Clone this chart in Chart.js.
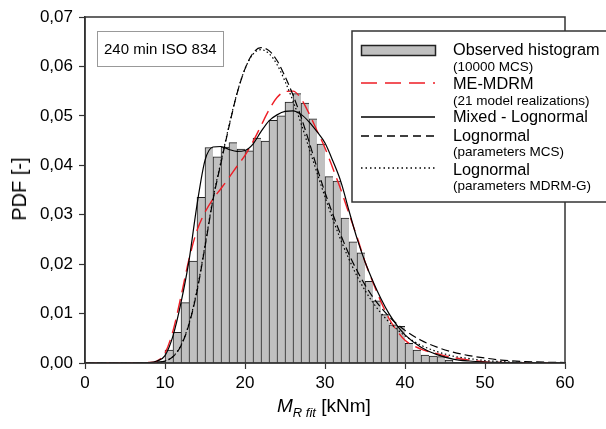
<!DOCTYPE html>
<html>
<head>
<meta charset="utf-8">
<script src="https://cdn.jsdelivr.net/npm/chart.js@4/dist/chart.umd.min.js"></script>
<style>
  html, body { margin: 0; padding: 0; background: #fff; }
  #wrap { position: relative; width: 606px; height: 429px; overflow: hidden; font-family: "Liberation Sans", Arial, sans-serif; color: #000; }
  #c { position: absolute; left: 0; top: 0; }
  .t { position: absolute; white-space: nowrap; line-height: 1; }
</style>
</head>
<body>
<div id="wrap">
  <canvas id="c" width="606" height="429"></canvas>
</div>
<script>
// ---------------- DATA ----------------
const binStarts = [9,10,11,12,13,14,15,16,17,18,19,20,21,22,23,24,25,26,27,28,29,30,31,32,33,34,35,36,37,38,39,40,41,42,43,44,45];
const histValues = [0.0004,0.0026,0.0062,0.0122,0.0206,0.0335,0.0436,0.0417,0.0437,0.0446,0.0433,0.0429,0.0455,0.0449,0.0491,0.0500,0.0528,0.0545,0.0526,0.0494,0.0443,0.0377,0.0368,0.0293,0.0245,0.0223,0.0165,0.0126,0.0098,0.0077,0.0074,0.0040,0.0026,0.0016,0.0014,0.0013,0.0006];

const curveX = [0,4,8,9,10,11,12,13,14,15,16,17,18,19,20,21,22,23,24,25,26,27,28,29,30,31,32,33,34,35,36,37,38,39,40,42,44,46,48,50,52,55,58,60];
const meMdrm = [0,0,0.0001,0.0004,0.002,0.0065,0.0135,0.021,0.0268,0.0305,0.0332,0.0353,0.0375,0.0398,0.042,0.0448,0.048,0.0512,0.0537,0.0549,0.055,0.0535,0.0505,0.047,0.0435,0.0393,0.035,0.0302,0.0255,0.0205,0.0163,0.0124,0.009,0.0065,0.0046,0.0028,0.0019,0.0011,0.0006,0.0002,0.0001,0,0,0];
const mixedLogn = [0,0,0.0001,0.0004,0.0015,0.0055,0.0122,0.0207,0.032,0.041,0.0437,0.0438,0.0432,0.0428,0.043,0.0443,0.0468,0.049,0.0502,0.0509,0.051,0.0503,0.0488,0.0468,0.0445,0.0408,0.0366,0.0308,0.0252,0.0205,0.0165,0.013,0.0100,0.0076,0.0057,0.0032,0.0017,0.0008,0.0004,0.0002,0.0001,0,0,0];
const lognMcs = [0,0,0.00002,0.0001,0.0004,0.0013,0.0035,0.0078,0.0145,0.0235,0.033,0.0405,0.0478,0.0545,0.0595,0.0627,0.0638,0.0632,0.0612,0.058,0.0542,0.0498,0.0448,0.0395,0.0345,0.030,0.0258,0.022,0.0187,0.0158,0.0133,0.0112,0.0094,0.0079,0.0066,0.0046,0.0032,0.0022,0.0015,0.001,0.0006,0.0003,0.00015,0.0001];
const lognMdrmG = [0,0,0.00002,0.0001,0.0004,0.0013,0.0036,0.008,0.0148,0.0238,0.0333,0.0408,0.048,0.0546,0.0595,0.0625,0.0634,0.0626,0.0604,0.057,0.053,0.0485,0.0435,0.0385,0.0336,0.029,0.0248,0.021,0.0176,0.0147,0.0122,0.0101,0.0083,0.0068,0.0055,0.0036,0.0023,0.0014,0.0009,0.0005,0.0003,0.0001,0.00005,0];

const xTicks = [0,10,20,30,40,50,60];
const yTicks = [0,0.01,0.02,0.03,0.04,0.05,0.06,0.07];

const legendLabels = [
  ["Observed histogram", "(10000 MCS)"],
  ["ME-MDRM", "(21 model realizations)"],
  ["Mixed - Lognormal", null],
  ["Lognormal", "(parameters MCS)"],
  ["Lognormal", "(parameters MDRM-G)"]
];
const boxLabel = "240 min ISO 834";
const yTitle = "PDF [-]";

// ---------------- CHART ----------------
const FONT = '"Liberation Sans", Arial, sans-serif';
Chart.defaults.font.family = FONT;
Chart.defaults.color = '#000';

const pts = (ys) => curveX.map((x, i) => ({x: x, y: ys[i]}));
const lineBase = { type: 'line', pointRadius: 0, borderWidth: 1.2, fill: false, cubicInterpolationMode: 'monotone', order: 1 };

const frameLegend = {
  id: 'frameLegend',
  afterDraw(chart) {
    const ctx = chart.ctx;
    const a = chart.chartArea;
    ctx.save();
    ctx.strokeStyle = '#333';
    ctx.lineWidth = 1.5;
    ctx.setLineDash([]);
    ctx.strokeRect(a.left, a.top, a.right - a.left, a.bottom - a.top);
    // annotation box
    ctx.fillStyle = '#fff';
    ctx.fillRect(97.5, 31.5, 126, 35);
    ctx.strokeStyle = '#999';
    ctx.lineWidth = 1;
    ctx.strokeRect(97.5, 31.5, 126, 35);
    // legend box
    ctx.fillStyle = '#fff';
    ctx.fillRect(352, 31, 270, 171);
    ctx.strokeStyle = '#333';
    ctx.lineWidth = 1.5;
    ctx.strokeRect(352, 31, 270, 171);
    // symbols
    ctx.fillStyle = '#c0c0c0';
    ctx.fillRect(361.5, 45.5, 74, 10);
    ctx.strokeStyle = '#222';
    ctx.lineWidth = 1.5;
    ctx.strokeRect(361.5, 45.5, 74, 10);
    const seg = (y, color, dash, w) => {
      ctx.beginPath();
      ctx.strokeStyle = color; ctx.lineWidth = w; ctx.setLineDash(dash);
      ctx.moveTo(361, y); ctx.lineTo(435, y); ctx.stroke();
    };
    seg(83, '#ee1c24', [16, 8], 1.4);
    seg(117, '#000', [], 1.3);
    seg(136, '#000', [8, 5], 1.3);
    seg(168, '#000', [1.5, 3], 1.3);
    ctx.restore();
  }
};

new Chart(document.getElementById('c'), {
  data: {
    datasets: [
      { type: 'bar', label: legendLabels[0][0], data: binStarts.map((b, i) => ({x: b + 0.5, y: histValues[i]})),
        backgroundColor: '#c0c0c0', borderColor: '#1e1e1e',
        borderWidth: (ctx) => ({left: 1, top: 1, right: ctx.dataIndex === binStarts.length - 1 ? 1 : 0, bottom: 0}),
        barPercentage: 1, categoryPercentage: 1, order: 10 },
      Object.assign({}, lineBase, { label: legendLabels[4][0], data: pts(lognMdrmG), borderColor: '#000', borderDash: [1.5, 2.5] }),
      Object.assign({}, lineBase, { label: legendLabels[3][0], data: pts(lognMcs), borderColor: '#000', borderDash: [8, 4] }),
      Object.assign({}, lineBase, { label: legendLabels[2][0], data: pts(mixedLogn), borderColor: '#000', borderDash: [] }),
      Object.assign({}, lineBase, { label: legendLabels[1][0], data: pts(meMdrm), borderColor: '#ee1c24', borderDash: [14, 7], borderWidth: 1.4 })
    ]
  },
  options: {
    responsive: false,
    animation: false,
    devicePixelRatio: 1,
    layout: { padding: { top: 17, right: 41, left: 0, bottom: 0 } },
    plugins: { legend: { display: false }, tooltip: { enabled: false } },
    scales: {
      x: {
        type: 'linear', min: 0, max: 60, offset: false,
        afterFit(s) { s.height = 66; },
        afterBuildTicks(s) { s.ticks = xTicks.map(v => ({value: v})); },
        ticks: { font: { size: 17 }, color: '#000', padding: 4, maxRotation: 0 },
        grid: { display: true, offset: false, drawOnChartArea: false, drawTicks: true, tickLength: 6, tickColor: '#333', tickWidth: 1.2 },
        border: { display: true, color: '#333', width: 1.5 }
      },
      y: {
        type: 'linear', min: 0, max: 0.07,
        afterFit(s) { s.width = 85; },
        afterBuildTicks(s) { s.ticks = yTicks.map(v => ({value: v})); },
        ticks: { font: { size: 17 }, color: '#000', padding: 6,
                 callback: (v) => v.toFixed(2).replace('.', ',') },
        grid: { display: true, drawOnChartArea: false, drawTicks: true, tickLength: 6, tickColor: '#333', tickWidth: 1.2 },
        border: { display: true, color: '#333', width: 1.5 }
      }
    }
  },
  plugins: [frameLegend]
});

// ---------------- HTML TEXT ----------------
const wrap = document.getElementById('wrap');
function addText(txt, x, baseline, size, extra) {
  const d = document.createElement('div');
  d.className = 't';
  d.textContent = txt;
  d.style.fontSize = size + 'px';
  d.style.left = x + 'px';
  d.style.top = (baseline - size * 0.845) + 'px';
  if (extra) Object.assign(d.style, extra);
  wrap.appendChild(d);
  return d;
}
const rows = [[55, 71], [89, 105], [122, null], [141, 156], [175, 190]];
legendLabels.forEach((l, i) => {
  addText(l[0], 453, rows[i][0], 16.3);
  if (l[1]) addText(l[1], 453, rows[i][1], 13.5);
});
addText(boxLabel, 104, 54, 15);

const xt = document.createElement('div');
xt.className = 't';
xt.style.left = '277px';
xt.style.top = '396px';
xt.style.fontSize = '19px';
xt.innerHTML = '<i>M</i><sub style="font-size:13px;font-style:italic;vertical-align:-5px">R fit</sub> [kNm]';
wrap.appendChild(xt);

const yt = document.createElement('div');
yt.className = 't';
yt.textContent = yTitle;
yt.style.fontSize = '20px';
yt.style.left = '19px';
yt.style.top = '189px';
yt.style.transform = 'translate(-50%, -50%) rotate(-90deg)';
wrap.appendChild(yt);
</script>
</body>
</html>
